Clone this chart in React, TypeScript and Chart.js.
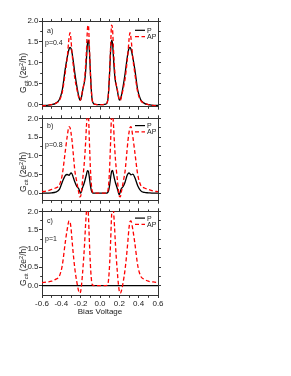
import React, { useEffect, useRef } from "react";
import { Chart, registerables } from "chart.js";

Chart.register(...registerables);

// ---------------- data ----------------
const biasV = [
  -0.6, -0.55, -0.5, -0.46, -0.42, -0.39, -0.36, -0.34, -0.32, -0.31, -0.3, -0.29, -0.28, -0.26, -0.24, -0.22,
  -0.21, -0.2, -0.19, -0.18, -0.17, -0.16, -0.15, -0.14, -0.13, -0.12, -0.11, -0.1, -0.09, -0.08, -0.06, -0.03,
  0,
  0.03, 0.06, 0.08, 0.09, 0.1, 0.11, 0.12, 0.13, 0.14, 0.15, 0.16, 0.17, 0.18, 0.19, 0.2, 0.21,
  0.22, 0.24, 0.26, 0.28, 0.29, 0.3, 0.31, 0.32, 0.34, 0.36, 0.39, 0.42, 0.46, 0.5, 0.55, 0.6,
];

// panel a) p = 0.4
const pA = [
  -0.02, -0.02, 0, 0.03, 0.12, 0.35, 0.85, 1.12, 1.33, 1.37, 1.34, 1.25, 1.1, 0.75, 0.45, 0.2,
  0.12, 0.11, 0.2, 0.33, 0.45, 0.55, 0.75, 1.1, 1.45, 1.54, 1.3, 0.8, 0.35, 0.1, 0.01, 0,
  0,
  0, 0.01, 0.1, 0.35, 0.8, 1.3, 1.54, 1.45, 1.1, 0.75, 0.55, 0.45, 0.33, 0.2, 0.11, 0.12,
  0.2, 0.45, 0.75, 1.1, 1.25, 1.34, 1.37, 1.33, 1.12, 0.85, 0.35, 0.12, 0.03, 0, -0.02, -0.02,
];
const apA = [
  -0.03, -0.02, 0, 0.03, 0.1, 0.3, 0.75, 1.1, 1.6, 1.72, 1.55, 1.25, 1.02, 0.62, 0.38, 0.17,
  0.1, 0.12, 0.22, 0.35, 0.45, 0.6, 0.9, 1.3, 1.8, 1.9, 1.4, 0.8, 0.35, 0.1, 0.01, 0,
  0,
  0, 0.01, 0.1, 0.35, 0.8, 1.4, 1.9, 1.8, 1.3, 0.9, 0.6, 0.45, 0.35, 0.22, 0.12, 0.1,
  0.17, 0.38, 0.62, 1.02, 1.25, 1.55, 1.72, 1.6, 1.1, 0.75, 0.3, 0.1, 0.03, 0, -0.02, -0.03,
];

// panel b) p = 0.8
const pB = [
  0, 0, 0.01, 0.03, 0.1, 0.3, 0.47, 0.5, 0.48, 0.51, 0.54, 0.52, 0.45, 0.3, 0.18, 0.12,
  0.05, 0, 0.06, 0.15, 0.22, 0.3, 0.4, 0.5, 0.6, 0.58, 0.42, 0.22, 0.08, 0.02, 0, 0,
  0,
  0, 0, 0.02, 0.08, 0.22, 0.42, 0.58, 0.61, 0.5, 0.38, 0.28, 0.2, 0.12, 0.02, -0.04, 0.04,
  0.12, 0.18, 0.3, 0.47, 0.52, 0.54, 0.52, 0.49, 0.51, 0.42, 0.2, 0.07, 0.02, 0.01, 0, 0,
];
const apB = [
  0.04, 0.06, 0.1, 0.14, 0.22, 0.5, 1.1, 1.5, 1.78, 1.75, 1.62, 1.42, 1.15, 0.6, 0.3, 0.02,
  -0.1, -0.08, 0.1, 0.35, 0.6, 0.9, 1.3, 1.8, 2.15, 2.1, 1.4, 0.7, 0.25, 0.05, 0, 0,
  0,
  0, 0, 0.05, 0.25, 0.7, 1.4, 2.1, 2.15, 1.8, 1.3, 0.9, 0.6, 0.35, 0.1, -0.08, -0.1,
  0.02, 0.3, 0.6, 1.15, 1.42, 1.62, 1.75, 1.78, 1.5, 1.1, 0.5, 0.22, 0.14, 0.1, 0.06, 0.04,
];

// panel c) p = 1
const apC = [
  0.08, 0.1, 0.12, 0.17, 0.26, 0.55, 1.15, 1.5, 1.74, 1.72, 1.55, 1.25, 0.95, 0.45, 0.1, -0.15,
  -0.2, -0.15, 0.05, 0.35, 0.7, 1.1, 1.6, 2.0, 2.2, 1.9, 1.2, 0.6, 0.2, 0.03, 0, 0,
  0,
  0, 0, 0.03, 0.2, 0.6, 1.2, 1.9, 2.2, 2.0, 1.6, 1.1, 0.7, 0.35, 0.05, -0.15, -0.2,
  -0.15, 0.1, 0.45, 0.95, 1.25, 1.55, 1.72, 1.74, 1.5, 1.15, 0.55, 0.26, 0.17, 0.12, 0.1, 0.08,
];
const pCBias = [-0.6, 0.6];
const pC = [0, 0];

const xTicks = [-0.6, -0.5, -0.4, -0.3, -0.2, -0.1, 0, 0.1, 0.2, 0.3, 0.4, 0.5, 0.6];
const yTicks = [0, 0.25, 0.5, 0.75, 1.0, 1.25, 1.5, 1.75, 2.0];
const seriesNames = ["P", "AP"];
const panelTags = ["a)", "b)", "c)"];
const polarizations = ["p=0.4", "p=0.8", "p=1"];
const yMins = [-0.05, -0.2, -0.25];
const yMax = 2.0;
const xTitle = "Bias Voltage";

// ---------------- styling ----------------
const FONT = '"Liberation Sans", Arial, sans-serif';
const AXIS = "#333";
const TXT = "#222";
const RED = "#ff0000";
const AP_DASH = [4, 2.5];

const isMajorX = (v: number) => Math.abs(Math.round(v * 10)) % 2 === 0;
const isMajorY = (v: number) => Math.abs(Math.round(v * 4)) % 2 === 0;

const panelLayout = [
  { top: 0, height: 112, padTop: 17, padBottom: 1, xH: 4, tagDy: 10.5, polDy: 22, legDy: 9.3, titleY: 73 },
  { top: 113, height: 93, padTop: 0, padBottom: 0, xH: 4, tagDy: 7.5, polDy: 27, legDy: 7.3, titleY: 172 },
  { top: 206, height: 170, padTop: 0, padBottom: 59, xH: 22, tagDy: 9.5, polDy: 28, legDy: 6.8, titleY: 266 },
];

const panelDecor = {
  id: "panelDecor",
  afterDraw(chart: any, _args: any, opts: any) {
    const { ctx, chartArea: a } = chart;
    ctx.save();
    ctx.font = `7px ${FONT}`;
    ctx.fillStyle = TXT;
    ctx.textBaseline = "middle";
    ctx.textAlign = "left";
    ctx.fillText(opts.tag, a.left + 5, a.top + opts.tagDy);
    ctx.fillText(opts.pol, a.left + 3, a.top + opts.polDy);
    opts.items.forEach((it: any, i: number) => {
      const y = a.top + opts.legDy + i * 6.3;
      ctx.beginPath();
      ctx.strokeStyle = it.color;
      ctx.lineWidth = 1.2;
      ctx.setLineDash(it.dash);
      ctx.moveTo(a.right - 23, y);
      ctx.lineTo(a.right - 13, y);
      ctx.stroke();
      ctx.setLineDash([]);
      ctx.fillText(it.label, a.right - 11, y + 0.5);
    });
    ctx.restore();
  },
};

function toPoints(xs: number[], ys: number[]) {
  return xs.map((x, i) => ({ x, y: ys[i] }));
}

function makeConfig(idx: number): any {
  const L = panelLayout[idx];
  const showX = idx === 2;
  const pSeries = [toPoints(biasV, pA), toPoints(biasV, pB), toPoints(pCBias, pC)][idx];
  const apSeries = [toPoints(biasV, apA), toPoints(biasV, apB), toPoints(biasV, apC)][idx];

  const tickGrid = (outerStart: boolean, major: (v: number) => boolean) => ({
    drawOnChartArea: false,
    drawTicks: true,
    tickLength: 3,
    tickWidth: 1,
    tickColor: AXIS,
    tickBorderDash: (c: any) => (c.tick && !major(c.tick.value) ? (outerStart ? [0, 1.2, 1.8, 10] : [1.8, 10]) : []),
  });
  const border = { display: true, color: AXIS, width: 1 };
  const setX = (s: any) => { s.ticks = xTicks.map((v) => ({ value: v })); };
  const setY = (s: any) => { s.ticks = yTicks.map((v) => ({ value: v })); };

  return {
    type: "line",
    data: {
      datasets: [
        {
          label: seriesNames[0],
          data: pSeries,
          borderColor: "#000",
          borderWidth: 1.3,
          pointRadius: 0,
          cubicInterpolationMode: "monotone",
          order: 1,
        },
        {
          label: seriesNames[1],
          data: apSeries,
          borderColor: RED,
          borderWidth: 1.3,
          borderDash: AP_DASH,
          pointRadius: 0,
          cubicInterpolationMode: "monotone",
          order: 0,
        },
      ],
    },
    options: {
      responsive: false,
      animation: false,
      devicePixelRatio: 1,
      events: [],
      layout: { padding: { left: 12, right: 129, top: L.padTop, bottom: L.padBottom } },
      plugins: {
        legend: { display: false },
        tooltip: { enabled: false },
        panelDecor: {
          tag: panelTags[idx],
          pol: polarizations[idx],
          tagDy: L.tagDy,
          polDy: L.polDy,
          legDy: L.legDy,
          items: [
            { label: seriesNames[0], color: "#000", dash: [] },
            { label: seriesNames[1], color: RED, dash: AP_DASH },
          ],
        },
      },
      scales: {
        x: {
          type: "linear",
          position: "bottom",
          min: -0.6,
          max: 0.6,
          afterBuildTicks: setX,
          afterFit: (s: any) => { s.height = L.xH; },
          ticks: {
            display: showX,
            autoSkip: false,
            maxRotation: 0,
            padding: 1,
            color: TXT,
            font: { family: FONT, size: 8 },
            callback: (v: number) => (isMajorX(v) ? Number(v).toFixed(1) : ""),
          },
          grid: tickGrid(false, isMajorX),
          border,
          title: {
            display: showX,
            text: xTitle,
            color: TXT,
            font: { family: FONT, size: 8 },
            padding: 0,
          },
        },
        x2: {
          type: "linear",
          position: "top",
          min: -0.6,
          max: 0.6,
          afterBuildTicks: setX,
          afterFit: (s: any) => { s.height = 4; },
          ticks: { display: false },
          grid: tickGrid(true, isMajorX),
          border,
        },
        y: {
          type: "linear",
          position: "left",
          min: yMins[idx],
          max: yMax,
          afterBuildTicks: setY,
          afterFit: (s: any) => { s.width = 30; },
          ticks: {
            autoSkip: false,
            padding: 0.5,
            color: TXT,
            font: { family: FONT, size: 8 },
            callback: (v: number) => (isMajorY(v) ? Number(v).toFixed(1) : ""),
          },
          grid: tickGrid(true, isMajorY),
          border,
        },
        y2: {
          type: "linear",
          position: "right",
          min: yMins[idx],
          max: yMax,
          afterBuildTicks: setY,
          afterFit: (s: any) => { s.width = 4; },
          ticks: { display: false },
          grid: tickGrid(false, isMajorY),
          border,
        },
      },
    },
    plugins: [panelDecor],
  };
}

function Panel({ idx }: { idx: number }) {
  const ref = useRef<HTMLCanvasElement | null>(null);
  const L = panelLayout[idx];
  useEffect(() => {
    if (!ref.current) return;
    const chart = new Chart(ref.current, makeConfig(idx));
    return () => chart.destroy();
  }, [idx]);
  return (
    <>
      <canvas
        ref={ref}
        width={291}
        height={L.height}
        style={{ position: "absolute", left: 0, top: L.top, width: 291, height: L.height }}
      />
      <div
        style={{
          position: "absolute",
          left: 24,
          top: L.titleY,
          transform: "translate(-50%, -50%) rotate(-90deg)",
          whiteSpace: "nowrap",
          fontFamily: FONT,
          fontSize: 8.5,
          lineHeight: 1,
          color: TXT,
        }}
      >
        G<sub style={{ fontSize: 5.5, verticalAlign: "-1.5px" }}>ctt</sub> (2e
        <sup style={{ fontSize: 5.5, verticalAlign: "3px" }}>2</sup>/h)
      </div>
    </>
  );
}

export default function App() {
  return (
    <div style={{ position: "absolute", left: 0, top: 0, width: 291, height: 376, background: "#fff", overflow: "hidden" }}>
      <Panel idx={0} />
      <Panel idx={1} />
      <Panel idx={2} />
    </div>
  );
}
